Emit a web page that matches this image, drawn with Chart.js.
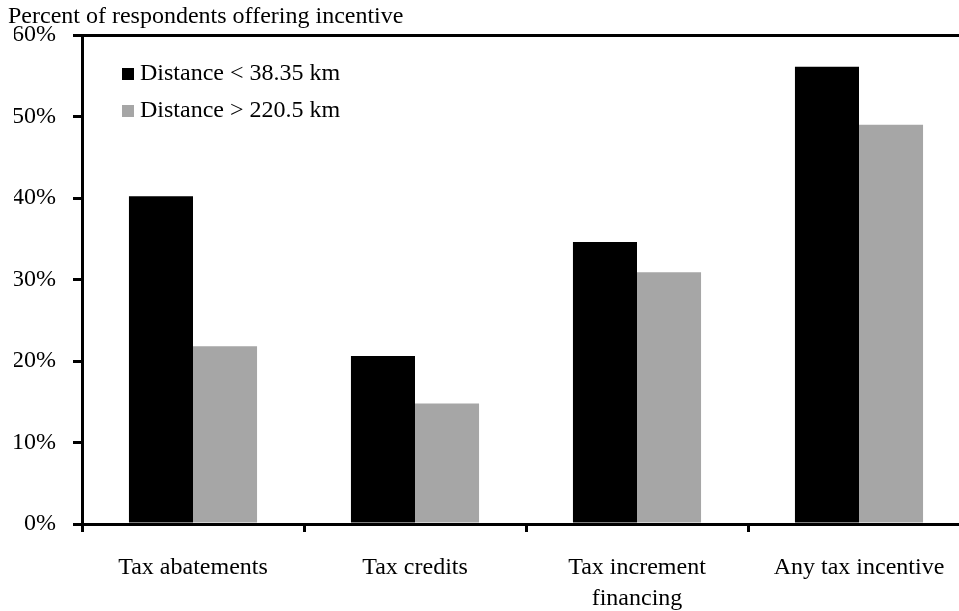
<!DOCTYPE html>
<html>
<head>
<meta charset="utf-8">
<script src="https://cdn.jsdelivr.net/npm/chart.js@4.4.1/dist/chart.umd.min.js"></script>
<style>
  html, body { margin: 0; padding: 0; overflow: hidden; background: #fff; }
  #wrap { width: 975px; height: 611px; }
</style>
</head>
<body>
<div id="wrap"><canvas id="c"></canvas></div>
<script>
// data
const categories = ['Tax abatements', 'Tax credits', ['Tax increment', 'financing'], 'Any tax incentive'];
const nearValues = [40.2, 20.6, 34.6, 56.1];
const farValues = [21.8, 14.8, 30.9, 49.0];
const seriesLabels = ['Distance < 38.35 km', 'Distance > 220.5 km'];
const yTicks = [0, 10, 20, 30, 40, 50, 60];
const yTitle = 'Percent of respondents offering incentive';

const FAMILY = '"Liberation Serif", "Times New Roman", serif';
const FONT_SIZE = 24;

// draws the axis caption at top-left and the legend inside the plot
const overlay = {
  id: 'overlay',
  afterDraw(chart) {
    const ctx = chart.ctx;
    const area = chart.chartArea;
    ctx.save();
    ctx.font = FONT_SIZE + 'px ' + FAMILY;
    ctx.textBaseline = 'middle';
    ctx.textAlign = 'left';
    ctx.fillStyle = '#000';
    ctx.fillText(yTitle, 8, 17);
    chart.data.datasets.forEach((ds, i) => {
      const y = area.top + 39 + i * 37;
      ctx.fillStyle = ds.backgroundColor;
      ctx.fillRect(area.left + 40, y - 6, 12, 12);
      ctx.fillStyle = '#000';
      ctx.fillText(ds.label, area.left + 58, y);
    });
    ctx.restore();
  }
};

Chart.defaults.font.family = FAMILY;
Chart.defaults.font.size = FONT_SIZE;
Chart.defaults.color = '#000';

new Chart(document.getElementById('c'), {
  type: 'bar',
  data: {
    labels: categories,
    datasets: [
      { label: seriesLabels[0], data: nearValues, backgroundColor: '#000000' },
      { label: seriesLabels[1], data: farValues, backgroundColor: '#a6a6a6' }
    ]
  },
  options: {
    responsive: true,
    maintainAspectRatio: false,
    animation: false,
    layout: { padding: { left: 14, top: 35, right: 5, bottom: 0 } },
    datasets: { bar: { categoryPercentage: 0.577, barPercentage: 1.0 } },
    plugins: {
      legend: { display: false },
      tooltip: { enabled: false },
      title: { display: false }
    },
    scales: {
      x: {
        afterFit: (scale) => { scale.height = 87; },
        grid: {
          offset: true,
          drawOnChartArea: false,
          tickLength: 8,
          tickColor: '#000',
          lineWidth: 3
        },
        border: { display: true, color: '#000', width: 3 },
        ticks: {
          color: '#000', padding: 20, maxRotation: 0, autoSkip: false,
          font: { size: FONT_SIZE, lineHeight: 1.3 }
        }
      },
      y: {
        min: 0,
        max: 60,
        afterFit: (scale) => { scale.width = 68; },
        afterBuildTicks: (scale) => { scale.ticks = yTicks.map(v => ({ value: v })); },
        grid: {
          color: (c) => (c.tick && c.tick.value === 60 ? '#000' : 'rgba(0,0,0,0)'),
          tickColor: '#000',
          tickLength: 9,
          lineWidth: 3
        },
        border: { display: true, color: '#000', width: 3 },
        ticks: { color: '#000', padding: 17, callback: (v) => v + '%' }
      }
    }
  },
  plugins: [overlay]
});
</script>
</body>
</html>
